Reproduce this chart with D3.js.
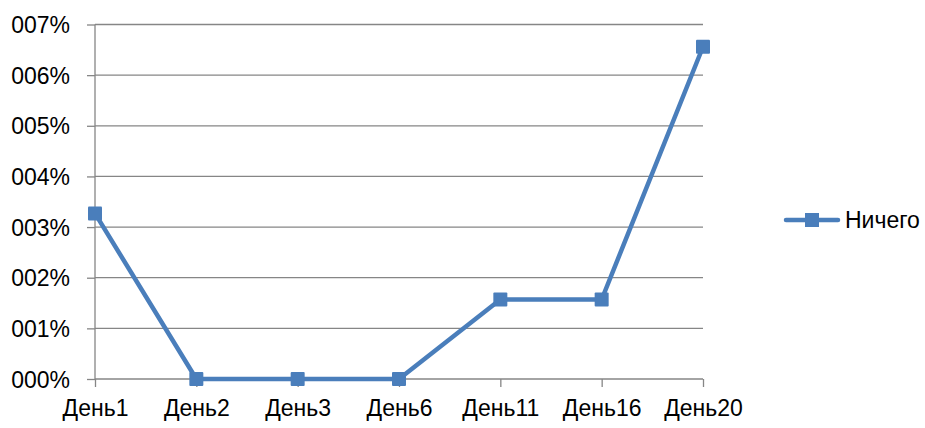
<!DOCTYPE html>
<html><head><meta charset="utf-8">
<script src="https://cdn.jsdelivr.net/npm/d3@7"></script>
<style>body{margin:0;background:#fff}svg{display:block}text{font-family:"Liberation Sans",Arial,sans-serif}</style>
</head><body>
<svg id="c" width="925" height="428"></svg>
<script>
const categories = ["День1","День2","День3","День6","День11","День16","День20"];
const values = [3.27, 0, 0, 0, 1.57, 1.57, 6.56];
const yTicks = [0,1,2,3,4,5,6,7];
const yTickLabels = ["000%","001%","002%","003%","004%","005%","006%","007%"];
const seriesName = "Ничего";

const svg = d3.select("#c");
const pL = 95, pR = 703, pT = 24.5, pB = 379;
const x = d3.scalePoint().domain(categories).range([pL, pR]);
const y = d3.scaleLinear().domain([0,7]).range([pB, pT]);
const grid = "#868686", blue = "#4a7ebb";
const fs = "23px";

// gridlines
svg.append("g").selectAll("line").data(yTicks.filter(d=>d>0)).join("line")
  .attr("x1", pL).attr("x2", pR).attr("y1", d=>y(d)).attr("y2", d=>y(d))
  .attr("stroke", grid).attr("stroke-width", 1.3);

// y axis
const ya = svg.append("g").attr("transform",`translate(${pL},0)`)
  .call(d3.axisLeft(y).tickValues(yTicks).tickSize(8).tickPadding(6).tickFormat((d,i)=>yTickLabels[i]));
ya.select(".domain").attr("stroke", grid).attr("stroke-width",1.3).attr("d",`M0,${pT}V${pB}`);
ya.selectAll(".tick line").attr("stroke", grid).attr("stroke-width",1.3);
ya.selectAll("text").attr("font-size",fs).attr("fill","#000").attr("font-family","Liberation Sans, Arial, sans-serif").attr("dy","0.35em").attr("x",-25);

// x axis
const xa = svg.append("g").attr("transform",`translate(0,${pB})`)
  .call(d3.axisBottom(x).tickSize(8).tickPadding(13));
xa.select(".domain").attr("stroke", grid).attr("stroke-width",1.3).attr("d",`M${pL},0H${pR}`);
xa.selectAll(".tick line").attr("stroke", grid).attr("stroke-width",1.3);
xa.selectAll("text").attr("font-size",fs).attr("fill","#000").attr("font-family","Liberation Sans, Arial, sans-serif");

// line
const data = categories.map((c,i)=>({c, v: values[i]}));
svg.append("path").datum(data)
  .attr("d", d3.line().x(d=>x(d.c)).y(d=>y(d.v)))
  .attr("fill","none").attr("stroke", blue).attr("stroke-width",4.5).attr("stroke-linejoin","round");
const ms = 14;
svg.append("g").selectAll("rect").data(data).join("rect")
  .attr("x", d=>x(d.c)-ms/2).attr("y", d=>y(d.v)-ms/2).attr("width", ms).attr("height", ms)
  .attr("fill", blue).attr("rx",1);

// legend
const ly = 220;
svg.append("line").attr("x1",786).attr("x2",838).attr("y1",ly).attr("y2",ly)
  .attr("stroke",blue).attr("stroke-width",4.5).attr("stroke-linecap","round");
svg.append("rect").attr("x",812-ms/2).attr("y",ly-ms/2).attr("width",ms).attr("height",ms).attr("fill",blue);
svg.append("text").attr("x",845).attr("y",ly).attr("dy","0.35em").attr("font-size",fs).text(seriesName);
</script>
</body></html>
